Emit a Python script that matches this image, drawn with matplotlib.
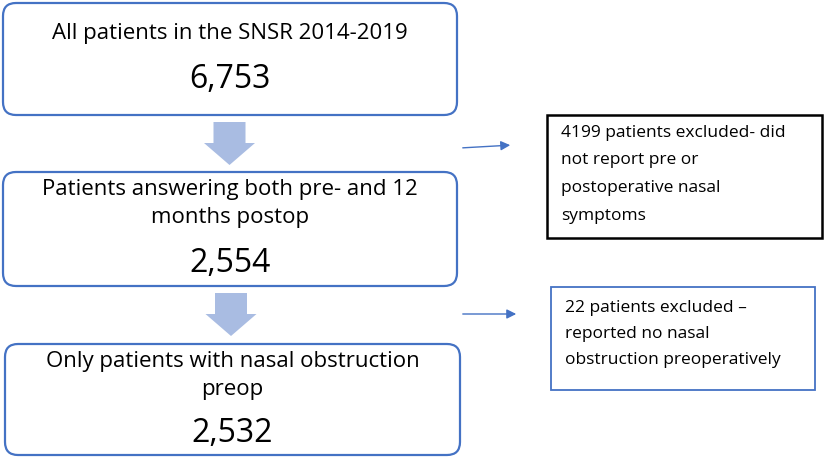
import matplotlib.pyplot as plt
from matplotlib.patches import FancyBboxPatch, Rectangle, Polygon

# flow steps
step_titles = [
    ["All patients in the SNSR 2014-2019"],
    ["Patients answering both pre- and 12", "months postop"],
    ["Only patients with nasal obstruction", "preop"],
]
step_counts = [6753, 2554, 2532]

# exclusion notes
excluded_lines = [
    ["4199 patients excluded- did", "not report pre or",
     "postoperative nasal", "symptoms"],
    ["22 patients excluded \u2013", "reported no nasal",
     "obstruction preoperatively"],
]

# layout in pixels (y grows downwards)
W, H = 824, 459
step_boxes = [(3, 3, 454, 112), (3, 172, 454, 114), (5, 344, 455, 111)]
title_y = [[34], [190, 218], [361, 390]]
count_y = [79, 263, 434]
block_arrows = [(229.5, 122, 165), (231, 293, 336)]
side_arrows = [(460, 148, 513, 145), (460, 314, 519, 314)]
excl_boxes = [(547, 115, 275, 123), (551, 287, 264, 103)]
excl_y0 = [133, 308]
excl_dy = [27.5, 26]
excl_edge = ['black', '#4472C4']

blue = '#4472C4'
fill = '#A9BCE2'
fam = ['Open Sans', 'DejaVu Sans']

fig = plt.figure(figsize=(W / 100, H / 100), dpi=100)
ax = fig.add_axes([0, 0, 1, 1])
ax.set_xlim(0, W)
ax.set_ylim(H, 0)
ax.axis('off')

for (x, y, w, h), lines, ys, n, cy in zip(step_boxes, step_titles, title_y,
                                         step_counts, count_y):
    ax.add_patch(FancyBboxPatch((x + 13, y + 13), w - 26, h - 26,
                                boxstyle="round,pad=13",
                                facecolor='white', edgecolor=blue, lw=1.6))
    for line, ly in zip(lines, ys):
        ax.text(x + w / 2, ly, line, ha='center', va='center',
                fontsize=16, family=fam, color='black')
    ax.text(x + w / 2, cy, f"{n:,}", ha='center', va='center',
            fontsize=23, family=fam, color='black')

# big down arrows
for cx, y0, y1 in block_arrows:
    head = 22
    shaft = 16
    half = 25.5
    pts = [(cx - shaft, y0), (cx + shaft, y0), (cx + shaft, y1 - head),
           (cx + half, y1 - head), (cx, y1), (cx - half, y1 - head),
           (cx - shaft, y1 - head)]
    ax.add_patch(Polygon(pts, closed=True, facecolor=fill, edgecolor='none'))

# thin side arrows
for x0, y0, x1, y1 in side_arrows:
    ax.annotate('', xy=(x1, y1), xytext=(x0, y0),
                arrowprops=dict(arrowstyle='-|>', color=blue, lw=1.0,
                                mutation_scale=14))

for (x, y, w, h), lines, y0, dy, ec in zip(excl_boxes, excluded_lines,
                                           excl_y0, excl_dy, excl_edge):
    ax.add_patch(Rectangle((x, y), w, h, facecolor='white', edgecolor=ec,
                           lw=1.8 if ec == 'black' else 1.3))
    for i, line in enumerate(lines):
        ax.text(x + 14, y0 + i * dy, line, ha='left', va='center',
                fontsize=12.5, family=fam, color='black')

fig.savefig('out.png', dpi=100)
